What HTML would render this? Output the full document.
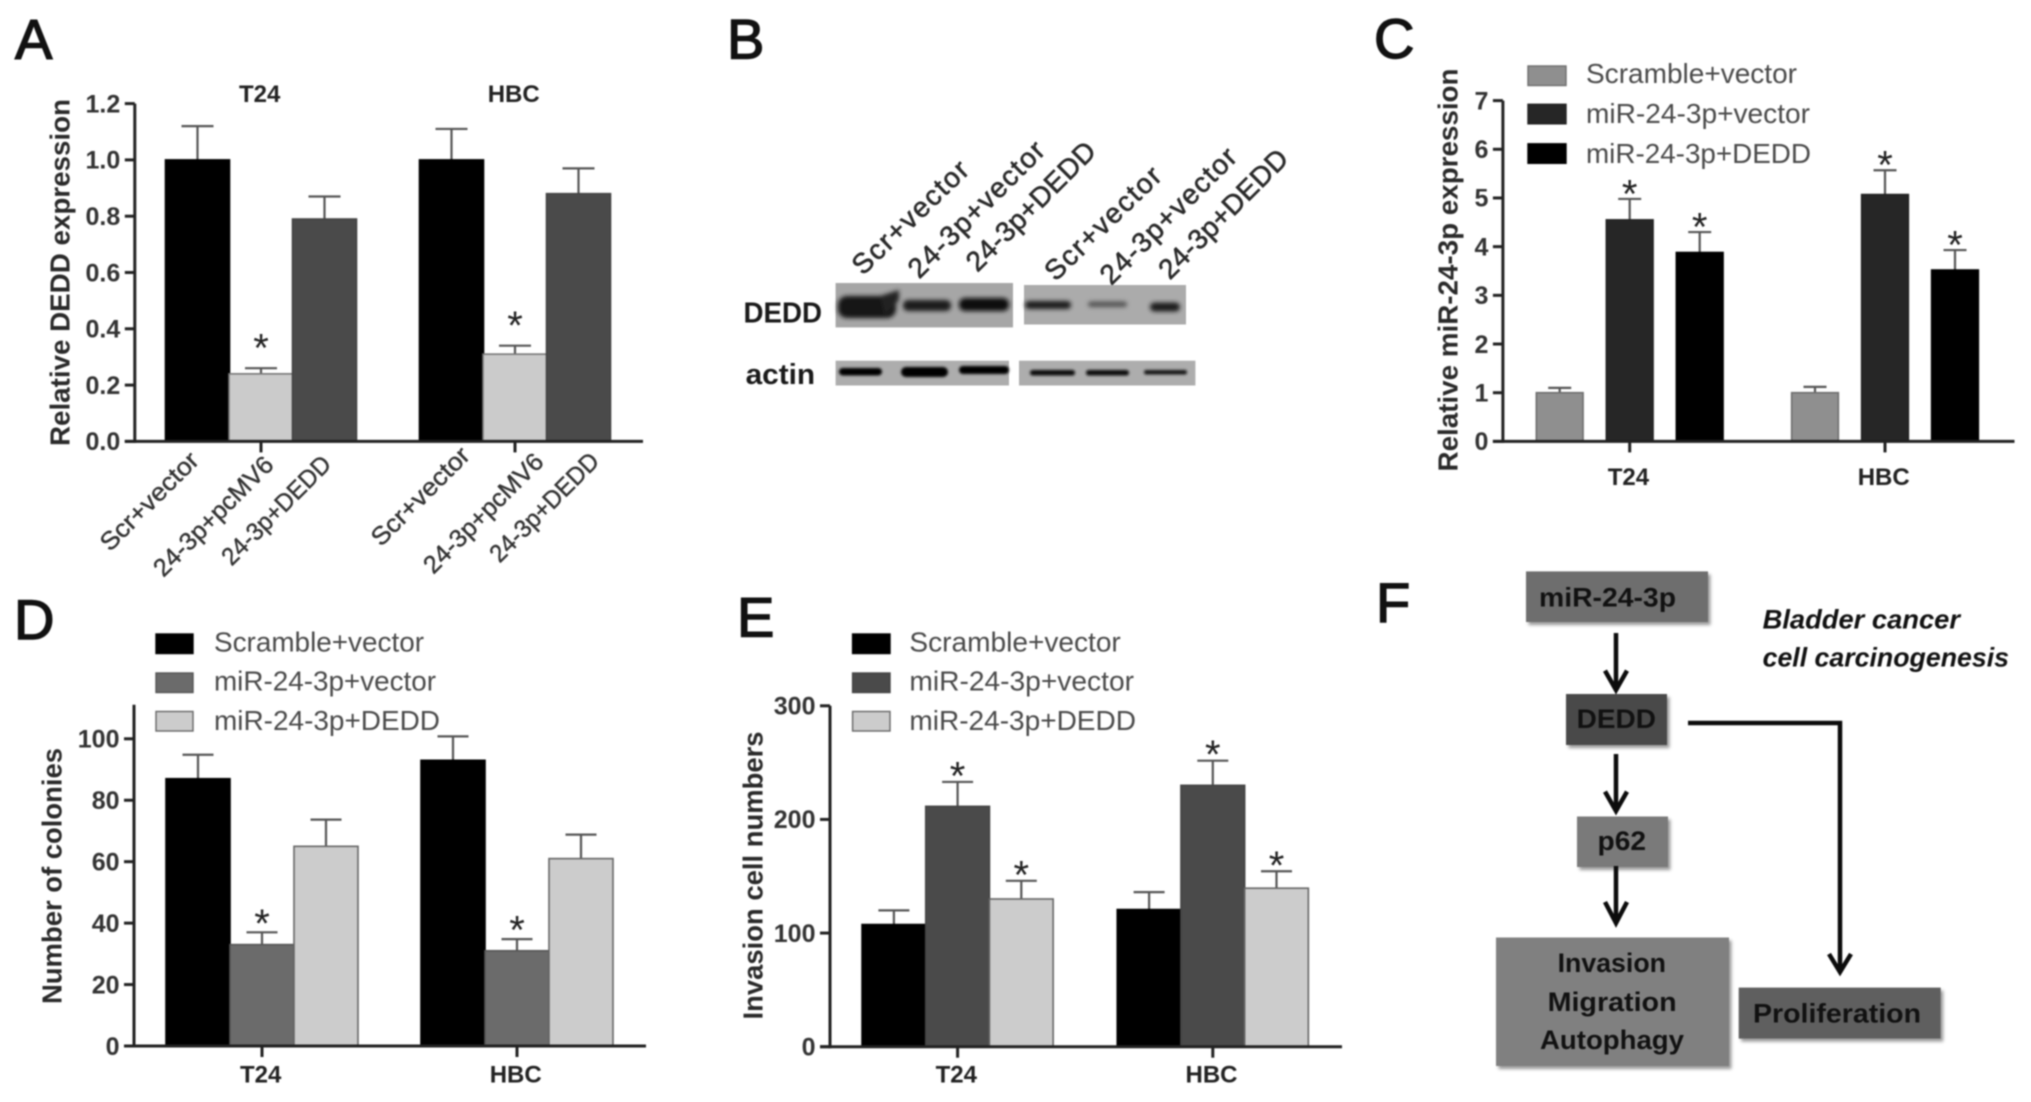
<!DOCTYPE html>
<html lang="en">
<head>
<meta charset="utf-8">
<title>DEDD figure panels</title>
<style>
html,body{margin:0;padding:0;background:#fff;width:2031px;height:1102px;overflow:hidden}
svg{display:block;filter:blur(.8px)}
text{font-family:"Liberation Sans",sans-serif}
.letter{font-size:56px;fill:#111;stroke:#111;stroke-width:1.4px}
.blot-label{font-size:29px;font-weight:bold;fill:#1a1a1a}
.lane{font-size:28px;fill:#2a2a2a;stroke:#2a2a2a;stroke-width:.6px;text-anchor:middle}
.flow{font-size:27px;font-weight:bold;fill:#111}
.note{font-size:27px;font-weight:bold;font-style:italic;fill:#111}
.arrow{fill:none;stroke:#0c0c0c;stroke-width:4.5px}
</style>
</head>
<body>
<svg id="figure" xmlns="http://www.w3.org/2000/svg" width="2031" height="1102" viewBox="0 0 2031 1102">
<defs>
<filter id="band-blur" x="-30%" y="-100%" width="160%" height="300%"><feGaussianBlur stdDeviation="2.2"/></filter>
<filter id="thin-band-blur" x="-30%" y="-100%" width="160%" height="300%"><feGaussianBlur stdDeviation="1.3"/></filter>
<filter id="box-shadow" x="-10%" y="-15%" width="120%" height="130%"><feDropShadow dx="2.5" dy="3" stdDeviation="1.5" flood-color="#000" flood-opacity=".4"/></filter>
</defs>
<rect width="2031" height="1102" fill="#fff"/>

<text class="letter" x="15" y="58.5">A</text>
<text class="letter" x="727" y="58.5">B</text>
<text class="letter" x="1374" y="58">C</text>
<text class="letter" x="14" y="639">D</text>
<text class="letter" x="737" y="636.5">E</text>
<text class="letter" x="1376" y="622">F</text>

<g id="panel-a"></g>
<g id="panel-c"></g>
<g id="panel-d"></g>
<g id="panel-e"></g>

<g>
  <text class="lane" transform="translate(910 217) rotate(-44)" dy=".35em" textLength="150" lengthAdjust="spacing">Scr+vector</text>
  <text class="lane" transform="translate(976 209) rotate(-45)" dy=".35em" textLength="180" lengthAdjust="spacing">24-3p+vector</text>
  <text class="lane" transform="translate(1030.6 206) rotate(-45)" dy=".35em" textLength="170" lengthAdjust="spacing">24-3p+DEDD</text>
  <text class="lane" transform="translate(1102.6 223) rotate(-44)" dy=".35em" textLength="150" lengthAdjust="spacing">Scr+vector</text>
  <text class="lane" transform="translate(1168 215.6) rotate(-45)" dy=".35em" textLength="180" lengthAdjust="spacing">24-3p+vector</text>
  <text class="lane" transform="translate(1223 213.6) rotate(-45)" dy=".35em" textLength="170" lengthAdjust="spacing">24-3p+DEDD</text>

  <text class="blot-label" x="743.5" y="322.6" textLength="78.5" lengthAdjust="spacingAndGlyphs">DEDD</text>
  <text class="blot-label" x="745.6" y="384" textLength="69.5" lengthAdjust="spacingAndGlyphs">actin</text>

  <rect x="835.6" y="283" width="177.4" height="44.4" fill="#a6a6a6"/>
  <rect x="1024" y="285" width="162" height="39.5" fill="#ababab"/>
  <rect x="835.6" y="360.7" width="173.4" height="24.8" fill="#adadad"/>
  <rect x="1019" y="360.7" width="176.4" height="24.8" fill="#adadad"/>

  <g filter="url(#band-blur)">
    <rect x="838" y="296" width="58" height="22" rx="9" fill="#151515"/>
    <path d="M880 296L899 290V300L885 316Z" fill="#222"/>
    <rect x="903" y="300" width="48" height="11" rx="5" fill="#1c1c1c"/>
    <rect x="959" y="298" width="50" height="13" rx="6" fill="#111"/>
    <rect x="1025" y="301" width="46" height="8" rx="4" fill="#1c1c1c"/>
    <rect x="1088" y="301.5" width="39" height="5.5" rx="2.7" fill="#555"/>
    <rect x="1150" y="302.5" width="30" height="9" rx="4.5" fill="#1a1a1a"/>
  </g>
  <g filter="url(#thin-band-blur)">
    <rect x="839" y="368" width="43" height="7.5" rx="3.7" fill="#000"/>
    <rect x="901" y="367" width="47" height="10" rx="5" fill="#000"/>
    <rect x="959" y="366" width="50" height="8" rx="4" fill="#000"/>
    <rect x="1030" y="370" width="45" height="5.5" rx="2.7" fill="#0c0c0c"/>
    <rect x="1086" y="370" width="43" height="5.5" rx="2.7" fill="#0c0c0c"/>
    <rect x="1144" y="370" width="43" height="4.5" rx="2.2" fill="#151515"/>
  </g>
</g>

<g>
  <g filter="url(#box-shadow)">
    <rect x="1526" y="571.4" width="182" height="50.6" fill="#6e6e6e"/>
    <rect x="1566" y="694" width="101" height="51" fill="#4a4a4a"/>
    <rect x="1577" y="816.5" width="91" height="50.5" fill="#7a7a7a"/>
    <rect x="1496" y="937.5" width="233" height="128.5" fill="#808080"/>
    <rect x="1738.7" y="987.6" width="202" height="51" fill="#5e5e5e"/>
  </g>
  <text class="flow" x="1539" y="606.7" textLength="137" lengthAdjust="spacingAndGlyphs">miR-24-3p</text>
  <text class="flow" x="1576.7" y="728" textLength="79.3" lengthAdjust="spacingAndGlyphs">DEDD</text>
  <text class="flow" x="1597.5" y="850" textLength="48.5" lengthAdjust="spacingAndGlyphs">p62</text>
  <text class="flow" x="1557.6" y="972" textLength="108.4" lengthAdjust="spacingAndGlyphs">Invasion</text>
  <text class="flow" x="1547.6" y="1011" textLength="129" lengthAdjust="spacingAndGlyphs">Migration</text>
  <text class="flow" x="1540" y="1049" textLength="144" lengthAdjust="spacingAndGlyphs">Autophagy</text>
  <text class="flow" x="1753" y="1022.5" textLength="168" lengthAdjust="spacingAndGlyphs">Proliferation</text>
  <text class="note" x="1762.6" y="628.4" textLength="197.4" lengthAdjust="spacingAndGlyphs">Bladder cancer</text>
  <text class="note" x="1762.6" y="666.5" textLength="246.4" lengthAdjust="spacingAndGlyphs">cell carcinogenesis</text>
  <path class="arrow" d="M1616 633V690M1605 670.6L1616 690L1627 670.6"/>
  <path class="arrow" d="M1616 754V811M1605 791.6L1616 811L1627 791.6"/>
  <path class="arrow" d="M1616 866V923M1605 902L1616 923L1627 902"/>
  <path class="arrow" d="M1688 723H1840V972M1829 954L1840 972L1851 954"/>
</g>
</svg>

<script>
const categories = ['T24', 'HBC'];
const legendSeries = ['Scramble+vector', 'miR-24-3p+vector', 'miR-24-3p+DEDD'];
const panelABarLabels = ['Scr+vector', '24-3p+pcMV6', '24-3p+DEDD'];

const panelATickLabels = ['0.0', '0.2', '0.4', '0.6', '0.8', '1.0', '1.2'];
const panelATickValues = [0, 0.2, 0.4, 0.6, 0.8, 1.0, 1.2];
const panelAValues = [[1.0, 0.24, 0.79], [1.0, 0.31, 0.88]];
const panelAErrorTops = [[1.12, 0.26, 0.87], [1.11, 0.34, 0.97]];
const panelAStars = [[0, 1, 0], [0, 1, 0]];

const panelCTickLabels = ['0', '1', '2', '3', '4', '5', '6', '7'];
const panelCTickValues = [0, 1, 2, 3, 4, 5, 6, 7];
const panelCValues = [[1.0, 4.55, 3.88], [1.0, 5.07, 3.52]];
const panelCErrorTops = [[1.1, 4.98, 4.3], [1.12, 5.57, 3.93]];
const panelCStars = [[0, 1, 1], [0, 1, 1]];

const panelDTickLabels = ['0', '20', '40', '60', '80', '100'];
const panelDTickValues = [0, 20, 40, 60, 80, 100];
const panelDValues = [[87, 33, 65], [93, 31, 61]];
const panelDErrorTops = [[94.8, 37, 73.7], [100.8, 34.8, 68.8]];
const panelDStars = [[0, 1, 0], [0, 1, 0]];

const panelETickLabels = ['0', '100', '200', '300'];
const panelETickValues = [0, 100, 200, 300];
const panelEValues = [[107.5, 211.5, 130], [120.7, 230, 139.5]];
const panelEErrorTops = [[120, 233, 146], [136, 251.7, 154.4]];
const panelEStars = [[0, 1, 1], [0, 1, 1]];

const NS = 'http://www.w3.org/2000/svg';

function svgEl(parent, tag, attrs, content) {
  const el = document.createElementNS(NS, tag);
  Object.keys(attrs).forEach(function (k) { el.setAttribute(k, attrs[k]); });
  if (content !== undefined) el.textContent = content;
  parent.appendChild(el);
  return el;
}

function drawChart(cfg) {
  const root = document.getElementById(cfg.id);
  const yScale = function (v) {
    return cfg.y0 - v * (cfg.y0 - cfg.yRefPx) / cfg.yRefValue;
  };
  const xScale = function (g, s) {
    return cfg.groupCenters[g] + (s - 1) * cfg.barStep;
  };

  // error bars and bars
  cfg.values.forEach(function (group, g) {
    group.forEach(function (value, s) {
      const cx = xScale(g, s);
      const errTop = yScale(cfg.errorTops[g][s]);
      const err = svgEl(root, 'path', {
        d: 'M' + cx + ' ' + yScale(value) + 'V' + errTop + 'M' + (cx - cfg.capHalf) + ' ' + errTop + 'H' + (cx + cfg.capHalf),
        fill: 'none', stroke: '#555', 'stroke-width': 2.2
      });
      
      

      const bar = svgEl(root, 'rect', {
        x: cx - cfg.barWidth / 2, y: yScale(value),
        width: cfg.barWidth, height: cfg.y0 - yScale(value),
        fill: cfg.colors[s], stroke: cfg.strokes[s], 'stroke-width': 1.6
      });
      
      

      if (cfg.stars[g][s]) {
        const star = svgEl(root, 'text', {
          x: cx, y: errTop - cfg.starGap + 18.5, 'text-anchor': 'middle',
          'font-size': 40, fill: '#222'
        }, '*');
        
        
      }
    });
  });

  // axes
  const yAxis = svgEl(root, 'line', {
    x1: cfg.axisX, x2: cfg.axisX, y1: cfg.axisTopPx, y2: cfg.y0 + 1.5,
    stroke: '#222', 'stroke-width': 3
  });
  
  

  const xAxis = svgEl(root, 'line', {
    x1: cfg.axisX - 10, x2: cfg.xEnd, y1: cfg.y0, y2: cfg.y0,
    stroke: '#222', 'stroke-width': 3
  });
  
  

  cfg.tickValues.forEach(function (v, i) {
    const tick = svgEl(root, 'line', {
      x1: cfg.axisX - 10, x2: cfg.axisX, y1: yScale(v), y2: yScale(v),
      stroke: '#222', 'stroke-width': 3
    });
    
    

    const label = svgEl(root, 'text', {
      x: cfg.axisX - 14.5, y: yScale(v), dy: '.35em', 'text-anchor': 'end',
      'font-size': 25, 'font-weight': 'bold', fill: '#333'
    }, cfg.tickLabels[i]);
    
    
  });

  categories.forEach(function (name, g) {
    const tick = svgEl(root, 'line', {
      x1: cfg.groupCenters[g], x2: cfg.groupCenters[g], y1: cfg.y0, y2: cfg.y0 + 11,
      stroke: '#222', 'stroke-width': 3
    });
    
    

    const label = svgEl(root, 'text', {
      x: cfg.groupCenters[g] - 1.3, y: cfg.categoryBaseline, 'text-anchor': 'middle',
      'font-size': 24, 'font-weight': 'bold', fill: '#222'
    }, name);
    
    
  });

  // y-axis title
  const title = svgEl(root, 'text', {
    transform: 'translate(' + cfg.titleX + ' ' + cfg.titleY + ') rotate(-90)',
    dy: '.35em', 'text-anchor': 'middle', 'font-size': 27.4, 'font-weight': 'bold', fill: '#2a2a2a',
    textLength: cfg.titleLength, lengthAdjust: 'spacingAndGlyphs'
  }, cfg.title);
  
  

  // legend
  if (cfg.legend) {
    legendSeries.forEach(function (name, s) {
      const swatch = svgEl(root, 'rect', {
        x: cfg.legend.swatchX, y: cfg.legend.swatchY[s],
        width: cfg.legend.swatchW, height: 19.5,
        fill: cfg.colors[s], stroke: cfg.strokes[s], 'stroke-width': 1.4
      });
      
      

      const label = svgEl(root, 'text', {
        x: cfg.legend.textX, y: cfg.legend.baseline[s], 'font-size': 28, fill: '#4a4a4a',
        textLength: cfg.legend.textW[s], lengthAdjust: 'spacingAndGlyphs'
      }, name);
      
      
    });
  }
  return root;
}

const panelA = drawChart({
  id: 'panel-a', title: 'Relative  DEDD expression', titleX: 60, titleY: 272.5, titleLength: 347,
  values: panelAValues, errorTops: panelAErrorTops, stars: panelAStars,
  tickValues: panelATickValues, tickLabels: panelATickLabels,
  axisX: 134.8, axisTopPx: 103.6, y0: 441.4, yRefPx: 103.6, yRefValue: 1.2, xEnd: 643,
  groupCenters: [261, 515], barStep: 63.5, barWidth: 64, capHalf: 16, starGap: 25,
  colors: ['#000', '#cbcbcb', '#4a4a4a'], strokes: ['#000', '#777', '#444'],
  categoryBaseline: 102
});

// Panel A carries its categories above the plot and per-bar labels below it.
const panelARotatedCentres = [[149, 501], [213, 516], [276, 510], [420, 496], [483, 513], [544, 507]];
const panelARotatedLengths = [128, 158, 143];
panelARotatedCentres.forEach(function (c, i) {
  const label = svgEl(panelA, 'text', {
    transform: 'translate(' + c[0] + ' ' + c[1] + ') rotate(-45)',
    dy: '.35em', 'text-anchor': 'middle', 'font-size': 25, fill: '#333',
    stroke: '#333', 'stroke-width': 0.4,
    textLength: panelARotatedLengths[i % 3], lengthAdjust: 'spacingAndGlyphs'
  }, panelABarLabels[i % 3]);
  
  
});

drawChart({
  id: 'panel-c', title: 'Relative miR-24-3p expression', titleX: 1447.7, titleY: 270, titleLength: 403,
  values: panelCValues, errorTops: panelCErrorTops, stars: panelCStars,
  tickValues: panelCTickValues, tickLabels: panelCTickLabels,
  axisX: 1502.9, axisTopPx: 100.6, y0: 441.4, yRefPx: 100.6, yRefValue: 7, xEnd: 2014.5,
  groupCenters: [1629.7, 1885], barStep: 70, barWidth: 46.7, capHalf: 11.5, starGap: 10,
  colors: ['#8f8f8f', '#262626', '#000'], strokes: ['#6e6e6e', '#222', '#000'],
  categoryBaseline: 485,
  legend: { swatchX: 1528, swatchW: 38, swatchY: [66, 104.3, 143.8], textX: 1586, textW: [211, 224, 225], baseline: [83.2, 123, 163] }
});

drawChart({
  id: 'panel-d', title: 'Number of colonies', titleX: 52, titleY: 876, titleLength: 256,
  values: panelDValues, errorTops: panelDErrorTops, stars: panelDStars,
  tickValues: panelDTickValues, tickLabels: panelDTickLabels,
  axisX: 134, axisTopPx: 704.8, y0: 1046, yRefPx: 738.8, yRefValue: 100, xEnd: 646,
  groupCenters: [262, 517], barStep: 64, barWidth: 64, capHalf: 15.5, starGap: 14,
  colors: ['#000', '#6b6b6b', '#cccccc'], strokes: ['#000', '#555', '#666'],
  categoryBaseline: 1082.7,
  legend: { swatchX: 156, swatchW: 37, swatchY: [634, 673, 711.5], textX: 214, textW: [210, 222, 226], baseline: [651.6, 690.5, 729.8] }
});

drawChart({
  id: 'panel-e', title: 'Invasion cell numbers', titleX: 753, titleY: 875.5, titleLength: 288,
  values: panelEValues, errorTops: panelEErrorTops, stars: panelEStars,
  tickValues: panelETickValues, tickLabels: panelETickLabels,
  axisX: 830, axisTopPx: 705.8, y0: 1046.7, yRefPx: 705.8, yRefValue: 300, xEnd: 1342,
  groupCenters: [957.6, 1212.8], barStep: 63.7, barWidth: 63.7, capHalf: 15.5, starGap: 11,
  colors: ['#000', '#4a4a4a', '#cccccc'], strokes: ['#000', '#444', '#666'],
  categoryBaseline: 1082.7,
  legend: { swatchX: 852.6, swatchW: 37.4, swatchY: [634, 673, 711.5], textX: 909.4, textW: [211.4, 224.6, 226.6], baseline: [651.6, 690.5, 729.8] }
});
</script>
</body>
</html>
